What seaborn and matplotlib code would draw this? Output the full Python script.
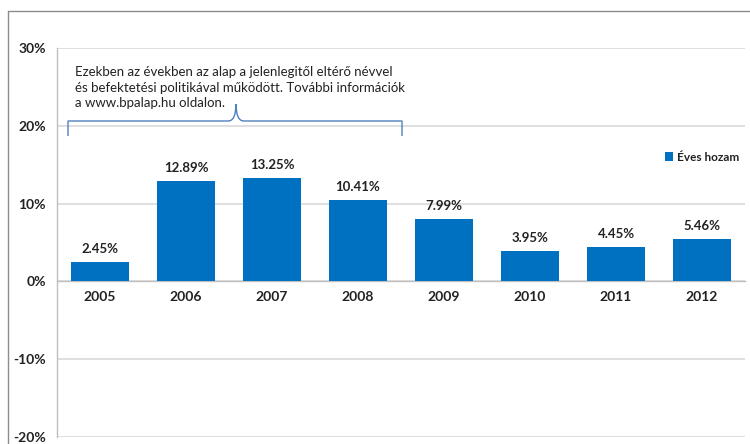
import matplotlib
matplotlib.use("Agg")
import matplotlib.pyplot as plt
import seaborn as sns
import pandas as pd
from matplotlib.path import Path
from matplotlib.patches import PathPatch
from matplotlib.lines import Line2D

years = ["2005", "2006", "2007", "2008", "2009", "2010", "2011", "2012"]
returns = [2.45, 12.89, 13.25, 10.41, 7.99, 3.95, 4.45, 5.46]
yticks = [-20, -10, 0, 10, 20, 30]
series_name = "Éves hozam"
note = ("Ezekben az években az alap a jelenlegitől eltérő névvel\n"
        "és befektetési politikával működött. További információk\n"
        "a www.bpalap.hu oldalon.")

sns.set_theme(style="white")
plt.rcParams['font.family'] = ['Lato', 'DejaVu Sans']

df = pd.DataFrame({"year": years, "ret": returns})

W, H = 750, 444
fig = plt.figure(figsize=(W / 100, H / 100), dpi=100)
ax = fig.add_axes([57 / W, 1 - 437 / H, (745 - 57) / W, (437 - 48) / H])

blue = "#0070C0"
sns.barplot(data=df, x="year", y="ret", color=blue, width=0.67, ax=ax,
            saturation=1, label=series_name, zorder=3, linewidth=0)

ax.set_ylim(-20, 30)
ax.set_xlim(-0.5, len(years) - 0.5)
ax.set_yticks(yticks)
ax.set_yticklabels([f"{v}%" for v in yticks], fontsize=10, fontweight="bold", color="#222222")
ax.yaxis.grid(True, color="#D9D9D9", linewidth=1.2, zorder=0)
ax.set_axisbelow(True)
ax.set_xlabel("")
ax.set_ylabel("")

for s in ["top", "right"]:
    ax.spines[s].set_visible(False)
ax.spines["left"].set_color("#BFBFBF")
ax.spines["left"].set_linewidth(1.0)
ax.spines["bottom"].set_position(("data", 0))
ax.spines["bottom"].set_color("#BFBFBF")
ax.spines["bottom"].set_linewidth(1.0)

ax.tick_params(axis="y", length=0, pad=8)
ax.tick_params(axis="x", which="major", length=0, pad=7)
ax.set_xticks([i + 0.5 for i in range(len(years) - 1)], minor=True)
ax.tick_params(axis="x", which="minor", length=4, color="#BFBFBF", direction="out")
for lbl in ax.get_xticklabels():
    lbl.set_fontsize(10)
    lbl.set_fontweight("bold")
    lbl.set_color("#222222")

for i, v in enumerate(returns):
    ax.annotate(f"{v:.2f}%", (i, v), xytext=(0, 5), textcoords="offset points",
                ha="center", va="bottom", fontsize=9.5, fontweight="bold", color="#222222")

leg = ax.legend(loc="upper left", bbox_to_anchor=((660 - 57) / (745 - 57), 1 - (147 - 48) / (437 - 48)),
                frameon=False, fontsize=8.5, handlelength=0.7, handleheight=0.7,
                handletextpad=0.3, borderaxespad=0)
for t in leg.get_texts():
    t.set_fontweight("bold")
    t.set_color("#222222")

fig.text(75 / W, 1 - 66 / H, note, ha="left", va="top", fontsize=9.5, color="#222222",
         linespacing=1.35)

def px(x, y):
    return (x / W, 1 - y / H)

xl, xr, xm = 68, 402, 236
yb, yt, yp = 136, 121, 104
verts = [px(xl, yb), px(xl, yt), px(xl, yt), px(xl + 10, yt),
         px(xm - 8, yt), px(xm, yt), px(xm, yp),
         px(xm, yt), px(xm + 8, yt),
         px(xr - 10, yt), px(xr, yt), px(xr, yt), px(xr, yb)]
codes = [Path.MOVETO, Path.CURVE3, Path.CURVE3, Path.LINETO,
         Path.LINETO, Path.CURVE3, Path.CURVE3,
         Path.CURVE3, Path.CURVE3,
         Path.LINETO, Path.CURVE3, Path.CURVE3, Path.LINETO]
brace = PathPatch(Path(verts, codes), transform=fig.transFigure, fill=False,
                  edgecolor="#4F81BD", linewidth=1.0)
fig.add_artist(brace)

fig.add_artist(Line2D([8 / W, 1], [1 - 11 / H, 1 - 11 / H], transform=fig.transFigure,
                      color="#8C8C8C", linewidth=1.0))
fig.add_artist(Line2D([8 / W, 8 / W], [1 - 11 / H, 0], transform=fig.transFigure,
                      color="#8C8C8C", linewidth=1.0))

fig.savefig("out.png", dpi=100)
